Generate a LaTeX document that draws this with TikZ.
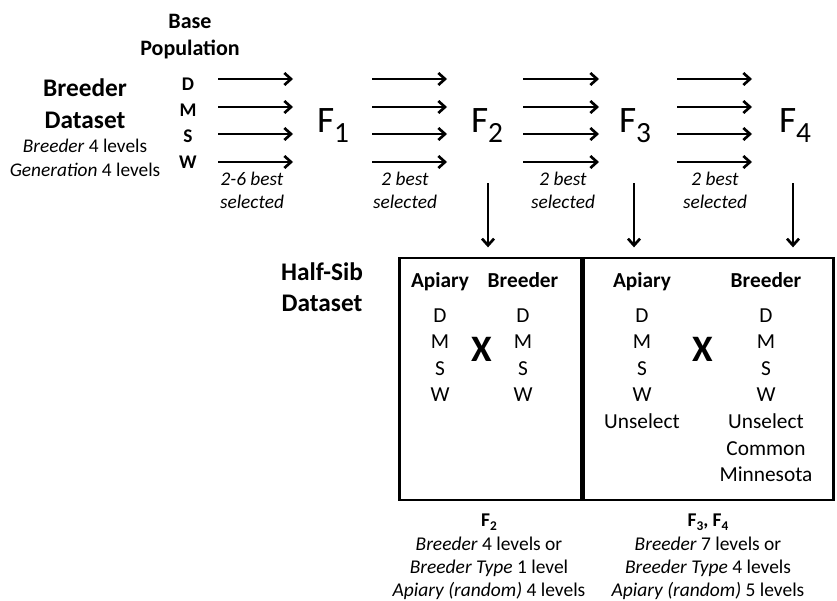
\documentclass[tikz,border=0pt]{standalone}
\usepackage{fontspec}
\setmainfont{Carlito}
\usetikzlibrary{arrows.meta}
\begin{document}
\begin{tikzpicture}[x=0.75pt,y=-0.75pt,
  every node/.style={inner sep=0pt, outer sep=0pt, anchor=base},
  title/.style={font=\fontsize{19}{22}\selectfont\bfseries},
  subtitle/.style={font=\fontsize{16.5}{19}\selectfont\bfseries},
  small/.style={font=\fontsize{14.5}{17}\selectfont},
  smallbold/.style={font=\fontsize{14.5}{17}\selectfont\bfseries},
  gen/.style={font=\fontsize{28}{31}\selectfont, anchor=base west},
  head/.style={font=\fontsize{16}{19}\selectfont\bfseries},
  cell/.style={font=\fontsize{16}{19}\selectfont},
  cross/.style={font=\fontsize{28}{31}\selectfont\bfseries},
  foot/.style={font=\fontsize{14.6}{17}\selectfont},
  arr/.style={line width=2pt, -{Straight Barb[length=5pt,width=9pt,line width=2pt]}},
  boxst/.style={draw, line width=2.2pt, anchor=center}]
\useasboundingbox (0,0) rectangle (837,600);

% left titles
\node[subtitle] (base1) at (190,28) {Base};
\node[subtitle] (base2) at (190,55) {Population};
\node[title] (bd1) at (85,96.7) {Breeder};
\node[title] (bd2) at (85,128) {Dataset};
\node[small] (bd3) at (85,152.7) {\itshape Breeder\/\upshape\ 4 levels};
\node[small] (bd4) at (85,176.7) {\itshape Generation\/\upshape\ 4 levels};

% base population letters
\node[smallbold] (bD) at (188,90) {D};
\node[smallbold] (bM) at (188,116.7) {M};
\node[smallbold] (bS) at (188,142.7) {S};
\node[smallbold] (bW) at (188,168.3) {W};

% generations
\node[gen] (F1) at (317,132) {F\raisebox{-8pt}{\fontsize{22}{25}\selectfont 1}};
\node[gen] (F2) at (471,132) {F\raisebox{-8pt}{\fontsize{22}{25}\selectfont 2}};
\node[gen] (F3) at (619,132) {F\raisebox{-8pt}{\fontsize{22}{25}\selectfont 3}};
\node[gen] (F4) at (779,132) {F\raisebox{-8pt}{\fontsize{22}{25}\selectfont 4}};

% arrow sets
\foreach \k/\xa/\xb in {1/218/293, 2/372/447, 3/523/599, 4/677/752}{
  \foreach \r/\yy in {1/79, 2/107, 3/134, 4/162}{
    \coordinate (s\k r\r) at (\xa,\yy);
    \coordinate (e\k r\r) at (\xb,\yy);
    \draw[arr] (s\k r\r) -- (e\k r\r);
  }
}

% selection labels
\node[small] (sel1a) at (252,185) {\itshape 2-6 best};
\node[small] (sel1b) at (252,208) {\itshape selected};
\node[small] (sel2a) at (405,185) {\itshape 2 best};
\node[small] (sel2b) at (405,208) {\itshape selected};
\node[small] (sel3a) at (563,185) {\itshape 2 best};
\node[small] (sel3b) at (563,208) {\itshape selected};
\node[small] (sel4a) at (715,185) {\itshape 2 best};
\node[small] (sel4b) at (715,208) {\itshape selected};

% boxes
\node[boxst, minimum width=137pt, minimum height=181.5pt] (boxL) at (490.5,379) {};
\node[boxst, minimum width=188pt, minimum height=181.5pt] (boxR) at (708.5,379) {};

% vertical arrows
\coordinate (d1) at (488,183);
\coordinate (d2) at (634,183);
\coordinate (d3) at (793,183);
\foreach \i in {1,2,3}{
  \draw[arr, shorten >=8pt] (d\i) -- (d\i |- boxL.north);
}

% half-sib title
\node[title] (hs1) at (322,280) {Half-Sib};
\node[title] (hs2) at (322,311.7) {Dataset};

% left box content
\node[head] (lA) at (440,287) {Apiary};
\node[head] (lB) at (523,287) {Breeder};
\node[cross] (lX) at (482,361.7) {X};
\foreach \t/\yy [count=\n] in {D/322, M/348.5, S/375, W/401.5}{
  \node[cell] (la\n) at (440,\yy) {\t};
  \node[cell] (lb\n) at (523,\yy) {\t};
}

% right box content
\node[head] (rA) at (642,287) {Apiary};
\node[head] (rB) at (766,287) {Breeder};
\node[cross] (rX) at (703,361.7) {X};
\foreach \t/\yy [count=\n] in {D/322, M/348.5, S/375, W/401.5, Unselect/428}{
  \node[cell] (ra\n) at (642,\yy) {\t};
}
\foreach \t/\yy [count=\n] in {D/322, M/348.5, S/375, W/401.5, Unselect/428, Common/455, Minnesota/481.5}{
  \node[cell] (rb\n) at (766,\yy) {\t};
}

% footers
\node[foot] (fL0) at (489,526.7) {\bfseries F\raisebox{-2.5pt}{\fontsize{10}{11}\selectfont 2}};
\node[foot] (fL1) at (489,550) {\itshape Breeder\/\upshape\ 4 levels or};
\node[foot] (fL2) at (489,573.3) {\itshape Breeder Type\/\upshape\ 1 level};
\node[foot] (fL3) at (489,596.5) {\itshape Apiary (random)\/\upshape\ 4 levels};

\node[foot] (fR0) at (708,526.7) {\bfseries F\raisebox{-2.5pt}{\fontsize{10}{11}\selectfont 3}, F\raisebox{-2.5pt}{\fontsize{10}{11}\selectfont 4}};
\node[foot] (fR1) at (708,550) {\itshape Breeder\/\upshape\ 7 levels or};
\node[foot] (fR2) at (708,573.3) {\itshape Breeder Type\/\upshape\ 4 levels};
\node[foot] (fR3) at (708,596.5) {\itshape Apiary (random)\/\upshape\ 5 levels};
\end{tikzpicture}
\end{document}
